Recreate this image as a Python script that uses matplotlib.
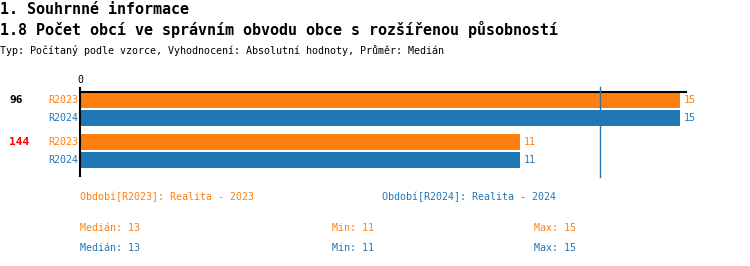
import matplotlib.pyplot as plt
import matplotlib.transforms as mtransforms
import numpy as np

# Data
categories = ['96', '144']
category_colors = ['black', 'red']
series = ['R2023', 'R2024']
series_colors = ['#ff7f0e', '#1f77b4']
values_2023 = [15, 11]
values_2024 = [15, 11]
all_values = [values_2023, values_2024]
median_value = 13
legend_labels = ['Období[R2023]: Realita - 2023', 'Období[R2024]: Realita - 2024']
stats = [('13', '11', '15'), ('13', '11', '15')]

W, H = 750, 266
fig = plt.figure(figsize=(W / 100, H / 100), dpi=100)
mono = 'DejaVu Sans Mono'


def fx(px):
    return px / W


def fy(py):
    return 1 - py / H


# Titles
fig.text(fx(0), fy(9), '1. Souhrnné informace', family=mono, fontsize=10.8,
         fontweight='bold', va='center', ha='left')
fig.text(fx(0), fy(30), '1.8 Počet obcí ve správním obvodu obce s rozšířenou působností',
         family=mono, fontsize=10.8, fontweight='bold', va='center', ha='left')
fig.text(fx(0), fy(50), 'Typ: Počítaný podle vzorce, Vyhodnocení: Absolutní hodnoty, Průměr: Medián',
         family=mono, fontsize=7.2, va='center', ha='left')

# Axes: x from 80px to 686px, y from 92px to 176px
ax = fig.add_axes([fx(80), fy(176), fx(686 - 80), (176 - 92) / H])
unit_px = 18.0
ax.set_xlim(0, 606 / 40.0)
ax.set_ylim((176 - 100) / unit_px, -(100 - 92) / unit_px)

fig_y = mtransforms.blended_transform_factory(fig.transFigure, ax.transData)

group_step = 42 / unit_px
bar_h = 16 / unit_px
for i, cat in enumerate(categories):
    for j, s in enumerate(series):
        y = i * group_step + j
        v = all_values[j][i]
        ax.barh(y, v, height=bar_h, color=series_colors[j], zorder=2)
        ax.annotate(str(v), (v, y), xytext=(2.5, 0), textcoords='offset points',
                    color=series_colors[j], family=mono, fontsize=7.2,
                    va='center', ha='left')
        ax.text(-0.05, y, s, color=series_colors[j], family=mono, fontsize=7.2,
                va='center', ha='right')
    yc = i * group_step
    ax.text(fx(9), yc, cat, color=category_colors[i], family=mono, fontsize=8,
            fontweight='bold', va='center', ha='left', transform=fig_y)

# Median line
ax.plot([median_value, median_value], [(177 - 100) / unit_px, -(100 - 87) / unit_px],
        color='#1f77b4', lw=1, zorder=3, clip_on=False)

for sp in ['right', 'bottom']:
    ax.spines[sp].set_visible(False)
ax.spines['top'].set_linewidth(1.5)
ax.spines['left'].set_linewidth(1.5)
ax.spines['left'].set_bounds((176 - 100) / unit_px, -(100 - 88) / unit_px)
ax.xaxis.tick_top()
ax.set_xticks([0])
ax.set_xticklabels(['0'], family=mono, fontsize=7.2)
ax.tick_params(axis='x', length=0, pad=5)
ax.set_yticks([])

# Legend texts
fig.text(fx(80), fy(197), legend_labels[0], color=series_colors[0], family=mono,
         fontsize=7.2, va='center', ha='left')
fig.text(fx(382), fy(197), legend_labels[1], color=series_colors[1], family=mono,
         fontsize=7.2, va='center', ha='left')
for k, (med, mn, mx) in enumerate(stats):
    y = fy(228 + 20 * k)
    c = series_colors[k]
    fig.text(fx(80), y, 'Medián: ' + med, color=c, family=mono, fontsize=7.2, va='center')
    fig.text(fx(332), y, 'Min: ' + mn, color=c, family=mono, fontsize=7.2, va='center')
    fig.text(fx(534), y, 'Max: ' + mx, color=c, family=mono, fontsize=7.2, va='center')

fig.savefig('out.png', dpi=100)
